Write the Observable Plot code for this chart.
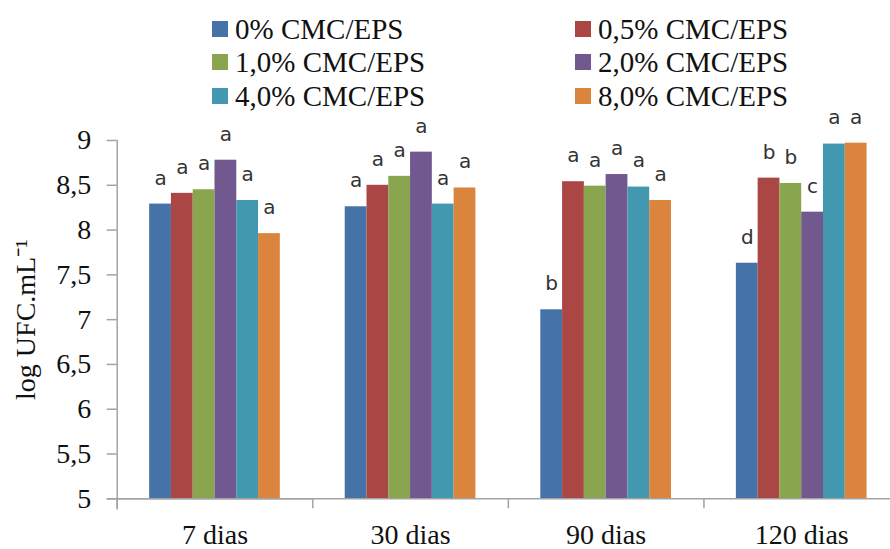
<!DOCTYPE html>
<html><head><meta charset="utf-8">
<script src="https://cdn.jsdelivr.net/npm/d3@7"></script>
<script src="https://cdn.jsdelivr.net/npm/@observablehq/plot@0.6"></script>
<style>
html,body{margin:0;padding:0;background:#fff;overflow:hidden;width:890px;height:549px;}
#legend{position:relative;height:105px;width:890px;font-family:"Liberation Serif",serif;font-size:29px;color:#111;}
.item{position:absolute;height:34px;line-height:34px;white-space:nowrap;}
.sw{position:absolute;width:16px;height:16px;left:0;top:9px;}
.lab{position:absolute;left:23px;top:0;}
#chart svg{display:block;max-width:none;}
#chart svg text{font-family:"Liberation Serif",serif;}
#chart svg g[aria-label="text"] text{font-family:"DejaVu Sans",sans-serif;}
</style></head><body>
<div id="legend"></div><div id="chart"></div>
<script>
const days = ["7 dias", "30 dias", "90 dias", "120 dias"];
const series = ["0% CMC/EPS", "0,5% CMC/EPS", "1,0% CMC/EPS", "2,0% CMC/EPS", "4,0% CMC/EPS", "8,0% CMC/EPS"];
const colors = ["#4572A7", "#AA4643", "#89A54E", "#71588F", "#4198AF", "#DB843D"];
// values per series across days
const cmc0 = [8.29, 8.26, 7.11, 7.63];
const cmc05 = [8.41, 8.50, 8.54, 8.58];
const cmc1 = [8.45, 8.60, 8.49, 8.52];
const cmc2 = [8.78, 8.87, 8.62, 8.20];
const cmc4 = [8.33, 8.29, 8.48, 8.96];
const cmc8 = [7.96, 8.47, 8.33, 8.97];
// significance letters per series across days
const let0 = ["a", "a", "b", "d"];
const let05 = ["a", "a", "a", "b"];
const let1 = ["a", "a", "a", "b"];
const let2 = ["a", "a", "a", "c"];
const let4 = ["a", "a", "a", "a"];
const let8 = ["a", "a", "a", "a"];
const yTicks = [5, 5.5, 6, 6.5, 7, 7.5, 8, 8.5, 9];
const yLabel = "log UFC.mL⁻¹";

const values = [cmc0, cmc05, cmc1, cmc2, cmc4, cmc8];
const letters = [let0, let05, let1, let2, let4, let8];
const rows = days.flatMap((d, i) => series.map((s, j) => ({day: d, series: s, value: values[j][i], letter: letters[j][i]})));

// legend
const legend = document.getElementById("legend");
const colX = [212, 575];
const rowTop = [11.5, 45, 78.5];
series.forEach((s, i) => {
  const it = document.createElement("div");
  it.className = "item";
  it.style.left = colX[i % 2] + "px";
  it.style.top = rowTop[Math.floor(i / 2)] + "px";
  it.innerHTML = `<span class="sw" style="background:${colors[i]}"></span><span class="lab">${s}</span>`;
  legend.appendChild(it);
});

const W = 899, H = 444, mL = 116.7, mT = 35, mB = 50.7, mR = 0;
const facetW = (W - mL - mR) / days.length;
const gray = "#a3a3a3";
const serif = "Liberation Serif";
const fmt = d => String(d).replace(".", ",");

const chart = Plot.plot({
  width: W, height: H,
  marginLeft: mL, marginRight: mR, marginTop: mT, marginBottom: mB,
  style: {fontFamily: serif, background: "#fff", maxWidth: "none", overflow: "visible"},
  fx: {domain: days, padding: 0, round: false, axis: null},
  x: {domain: series, paddingInner: 0, paddingOuter: 1.49, round: false, axis: null},
  y: {domain: [5, 9], axis: null},
  color: {domain: series, range: colors},
  marks: [
    Plot.barY(rows, {fx: "day", x: "series", y1: 5, y2: "value", fill: "series", inset: 0}),
    Plot.text(rows, {fx: "day", x: "series", y: "value", text: "letter", dy: -26, fontFamily: "DejaVu Sans", fontSize: 20, fill: "#333"}),
    Plot.frame({anchor: "left", facetAnchor: "left", insetBottom: -10, stroke: gray, strokeWidth: 1.5}),
    Plot.ruleY([5], {stroke: gray, strokeWidth: 1.5}),
    Plot.ruleY([5], {facetAnchor: "left", insetLeft: -10, stroke: gray, strokeWidth: 1.5}),
    Plot.axisY({ticks: yTicks, tickSize: 10, tickPadding: 16, tickFormat: fmt, stroke: gray, strokeWidth: 1.5, fill: "#111", fontSize: 28, fontFamily: serif,
      label: yLabel, labelAnchor: "center", labelArrow: "none", labelOffset: 102}),
    Plot.axisFx({anchor: "bottom", tickSize: 10, dx: -facetW / 2, tickFormat: () => "", stroke: gray, strokeWidth: 1.5, label: null}),
    Plot.axisFx({anchor: "bottom", tickSize: 0, tickPadding: 25, fill: "#111", fontSize: 28, fontFamily: serif, label: null})
  ]
});
document.getElementById("chart").appendChild(chart);
</script></body></html>
